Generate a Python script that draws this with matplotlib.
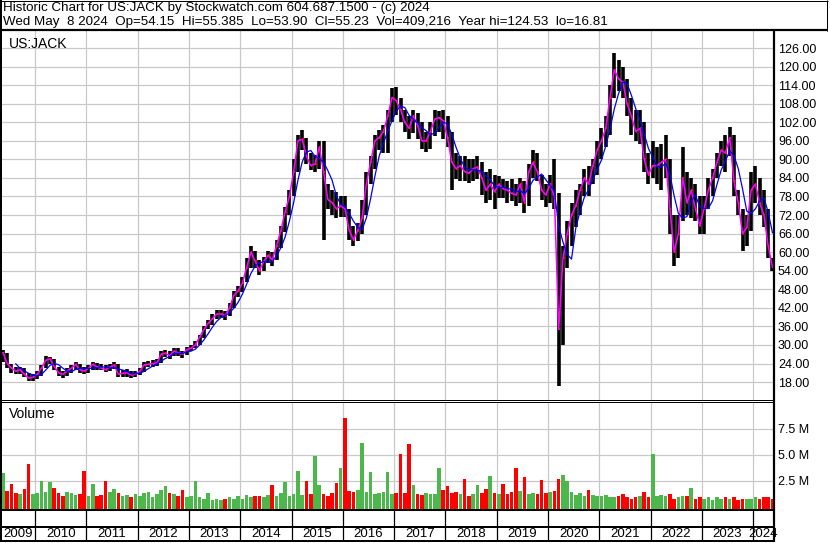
import numpy as np
import pandas as pd
import matplotlib
matplotlib.use("Agg")
import matplotlib.pyplot as plt
from matplotlib.lines import Line2D

plt.rcParams['font.family'] = ['Liberation Sans', 'DejaVu Sans']

# monthly bars, May 2009 .. May 2024
close = [
    27.5, 24.0, 22.5, 21.5, 22.0, 20.5, 19.3, 19.5,                                 # 2009
    20.5, 22.5, 25.0, 25.5, 23.0, 21.0, 20.5, 21.5, 22.5, 23.7, 22.0, 21.5,          # 2010
    22.5, 23.7, 23.0, 22.5, 22.0, 22.8, 23.5, 20.5, 20.8, 21.0, 20.3, 20.5,          # 2011
    21.5, 23.5, 23.7, 24.0, 24.2, 27.0, 27.3, 26.5, 28.0, 27.5, 27.0, 28.5,          # 2012
    29.0, 30.0, 32.5, 35.0, 37.0, 38.5, 40.0, 40.0, 39.5, 42.0, 46.0, 47.5,          # 2013
    50.0, 55.0, 60.0, 57.0, 54.0, 57.0, 59.0, 57.5, 62.0, 67.0, 73.0, 78.0,          # 2014
    86.0, 96.0, 96.5, 91.0, 88.0, 88.5, 94.0, 86.0, 77.0, 76.0, 74.0, 75.0,          # 2015
    74.0, 67.0, 64.0, 67.0, 71.0, 82.0, 89.0, 96.0, 97.0, 99.0, 104.0, 110.0,        # 2016
    109.0, 106.0, 102.0, 100.0, 104.0, 101.0, 96.0, 96.0, 99.0, 103.0, 103.5, 102.5, # 2017
    97.0, 89.0, 87.0, 88.0, 86.0, 85.5, 87.0, 87.5, 84.0, 80.0, 82.0, 79.5,          # 2018
    82.0, 80.5, 80.0, 79.0, 78.5, 82.0, 76.0, 86.0, 89.0, 86.0, 80.0, 78.5,          # 2019
    82.0, 78.0, 35.0, 58.0, 66.0, 72.0, 75.0, 80.0, 84.0, 82.0, 88.0, 93.0,          # 2020
    96.0, 100.0, 110.0, 119.0, 116.0, 115.0, 108.0, 104.0, 99.0, 100.0, 90.0, 85.0,  # 2021
    88.0, 88.0, 89.0, 90.0, 74.0, 60.0, 66.0, 84.0, 76.0, 80.0, 74.0, 68.5,          # 2022
    74.0, 80.0, 84.0, 89.0, 93.0, 92.0, 97.0, 83.0, 76.0, 66.0, 68.0, 80.0,          # 2023
    82.0, 76.0, 72.0, 62.0, 55.2,                                                    # 2024
]
high = [
    28.5, 27.5, 24.0, 23.0, 23.0, 22.5, 21.0, 20.5,
    21.5, 23.5, 26.5, 26.2, 25.5, 23.0, 21.5, 22.5, 23.5, 24.5, 24.0, 23.0,
    23.5, 24.5, 24.2, 23.8, 23.5, 23.8, 24.5, 23.8, 22.0, 22.2, 21.5, 21.5,
    22.5, 24.5, 24.8, 25.0, 25.5, 28.0, 28.3, 28.0, 29.0, 29.0, 28.0, 29.3,
    30.0, 31.2, 33.2, 36.0, 38.0, 40.0, 41.2, 41.3, 41.0, 43.5, 47.5, 49.0,
    52.0, 58.0, 62.0, 60.5, 57.5, 58.5, 60.5, 60.0, 64.0, 68.5, 74.5, 80.0,
    90.0, 98.0, 99.5, 97.0, 92.0, 91.5, 96.0, 96.0, 82.0, 80.0, 79.5, 78.0,
    78.0, 74.0, 68.5, 69.5, 77.0, 86.0, 91.0, 98.0, 99.5, 101.0, 106.0, 113.0,
    113.5, 110.0, 106.0, 104.0, 106.0, 105.0, 102.0, 99.0, 102.0, 106.0, 105.5, 106.0,
    104.0, 99.0, 92.0, 91.0, 91.0, 90.0, 90.0, 91.0, 89.0, 86.0, 87.0, 85.0,
    84.5, 83.5, 83.0, 83.5, 82.0, 84.0, 83.0, 88.5, 93.0, 92.0, 85.0, 82.0,
    85.0, 90.0, 79.0, 62.0, 70.0, 76.0, 80.0, 82.0, 87.0, 88.0, 90.0, 96.0,
    100.0, 104.0, 114.0, 124.5, 122.0, 120.0, 116.0, 110.0, 106.0, 106.0, 102.0, 92.0,
    96.0, 94.0, 95.0, 98.0, 90.0, 72.0, 72.0, 94.0, 86.0, 84.0, 82.0, 78.0,
    78.0, 84.0, 87.0, 92.0, 96.0, 98.0, 100.5, 98.0, 80.0, 74.0, 72.0, 86.0,
    88.0, 84.0, 80.0, 74.0, 58.0,
]
low = [
    24.5, 22.5, 21.0, 20.5, 20.5, 19.5, 18.3, 18.5,
    19.0, 20.0, 22.5, 24.0, 22.0, 20.0, 19.3, 20.0, 21.0, 22.0, 21.0, 20.5,
    21.0, 22.0, 22.0, 21.8, 21.2, 21.5, 22.3, 19.5, 19.5, 19.6, 19.3, 19.5,
    20.3, 21.2, 22.8, 23.0, 23.2, 24.2, 26.0, 25.5, 26.3, 26.5, 25.7, 26.8,
    28.0, 29.0, 30.0, 32.3, 35.0, 36.5, 38.5, 38.8, 38.2, 39.5, 41.8, 45.5,
    47.0, 50.5, 55.0, 55.0, 52.5, 54.0, 56.5, 55.5, 57.5, 61.5, 66.5, 72.0,
    78.0, 86.0, 93.0, 88.5, 86.5, 86.0, 87.0, 64.0, 74.0, 72.0, 71.0, 71.5,
    71.5, 64.0, 62.0, 63.5, 66.0, 72.0, 82.0, 87.0, 93.0, 92.0, 92.0, 102.0,
    104.5, 102.0, 99.0, 96.5, 98.5, 96.5, 93.5, 92.5, 93.5, 97.5, 99.0, 96.5,
    94.0, 80.0, 83.5, 83.0, 83.0, 82.5, 83.0, 83.5, 78.5, 76.0, 77.0, 74.0,
    77.5, 77.5, 76.0, 76.5, 75.0, 76.0, 72.5, 75.0, 84.0, 83.0, 77.0, 74.5,
    76.0, 74.0, 16.8, 30.0, 55.0, 62.0, 68.0, 72.0, 78.0, 78.0, 82.0, 85.0,
    90.0, 94.0, 98.0, 110.0, 112.0, 110.0, 104.0, 98.0, 96.0, 95.0, 86.0, 82.0,
    84.0, 82.0, 80.0, 84.0, 66.0, 55.4, 58.0, 70.0, 72.0, 71.0, 70.0, 66.0,
    66.0, 74.0, 78.0, 84.0, 88.0, 86.0, 91.0, 78.0, 72.0, 60.5, 62.0, 67.0,
    76.0, 72.0, 68.0, 58.0, 53.9,
]
# volume in millions of shares (tallest day of each month)
volume = [
    3.2, 1.5, 2.2, 1.3, 1.2, 1.7, 4.1, 1.2,
    1.3, 2.5, 1.4, 2.4, 1.8, 1.3, 1.0, 1.4, 1.3, 1.1, 1.2, 3.4,
    1.0, 2.2, 1.0, 1.1, 2.5, 1.4, 1.7, 1.3, 1.0, 1.1, 0.9, 1.2,
    1.0, 1.3, 1.4, 0.9, 1.2, 1.6, 2.0, 1.3, 1.2, 1.0, 1.6, 0.9,
    1.0, 2.5, 0.9, 0.8, 1.3, 0.7, 0.8, 0.7, 0.8, 0.9, 0.8, 1.0,
    0.8, 1.1, 0.9, 1.0, 1.0, 0.9, 1.1, 2.1, 1.0, 1.3, 2.4, 1.0,
    1.2, 3.4, 1.1, 2.5, 1.2, 4.9, 2.1, 1.2, 1.0, 1.3, 2.3, 3.7,
    8.5, 1.5, 1.4, 1.6, 6.1, 1.4, 3.3, 1.2, 1.3, 1.4, 3.3, 1.2,
    1.3, 5.1, 1.3, 6.0, 2.1, 1.2, 1.1, 1.3, 1.2, 1.2, 3.7, 1.6,
    2.0, 1.3, 1.4, 1.2, 2.7, 1.0, 1.2, 2.05, 1.3, 1.7, 3.0, 1.3,
    1.2, 2.2, 1.2, 1.4, 3.7, 1.5, 2.85, 1.2, 1.3, 1.2, 2.6, 1.3,
    1.4, 1.5, 2.7, 3.1, 2.5, 1.4, 1.1, 1.3, 1.0, 1.6, 1.1, 1.0,
    1.0, 1.1, 0.9, 0.9, 1.0, 1.2, 0.9, 0.8, 0.9, 1.0, 1.4, 0.9,
    5.1, 1.0, 1.1, 1.0, 1.2, 0.8, 0.9, 1.0, 1.0, 1.8, 0.8, 0.9,
    0.8, 0.9, 0.7, 0.9, 0.8, 0.9, 0.8, 0.9, 0.7, 0.8, 0.8, 0.8,
    0.9, 0.8, 0.9, 0.9, 0.8,
]
years = list(range(2009, 2025))
price_ticks = list(range(18, 127, 6))
vol_ticks = [2.5, 5.0, 7.5]

header1 = "Historic Chart for US:JACK by Stockwatch.com 604.687.1500 - (c) 2024"
header2 = ("Wed May  8 2024  Op=54.15  Hi=55.385  Lo=53.90  Cl=55.23  "
           "Vol=409,216  Year hi=124.53  lo=16.81")

W, H = 830, 543


def fx(x):
    return x / W


def fy(y):
    return 1 - y / H


def hline(fig, x0, x1, y, lw=1.0):
    fig.add_artist(Line2D([fx(x0), fx(x1)], [fy(y), fy(y)], transform=fig.transFigure,
                          color='black', lw=lw * 0.72, solid_capstyle='butt'))


def vline(fig, x, y0, y1, lw=1.0):
    fig.add_artist(Line2D([fx(x), fx(x)], [fy(y0), fy(y1)], transform=fig.transFigure,
                          color='black', lw=lw * 0.72, solid_capstyle='butt'))


df = pd.DataFrame({'close': close, 'high': high, 'low': low, 'volume': volume})
df['t'] = 2009 + (4 + np.arange(len(df)) + 0.5) / 12
ma_short = df['close'].rolling(1).mean()
ma_long = df['close'].rolling(4).mean()
up = df['close'].diff().fillna(1) >= 0

x_left, x_right = 2009.337, 2024.386
grid_col = '#c8c8c8'

fig = plt.figure(figsize=(W / 100, H / 100), dpi=100)

# price panel
ax = fig.add_axes([fx(1), fy(400), fx(773) - fx(1), fy(31) - fy(400)])
ax.set_xlim(x_left, x_right)
ax.set_ylim(12.2, 131.5)
ax.set_yticks(price_ticks)
ax.set_yticklabels([f"{v:.2f}" for v in price_ticks])
ax.set_xticks(years[1:])
ax.grid(True, color=grid_col, lw=1.2 * 0.72)
ax.set_axisbelow(True)
ax.tick_params(axis='y', right=True, labelright=True, left=False, labelleft=False,
               length=0, pad=3.6, labelsize=9)
ax.tick_params(axis='x', bottom=False, labelbottom=False)
for s in ax.spines.values():
    s.set_visible(False)

ax.vlines(df['t'], df['low'], df['high'], color='black', lw=2.6)
ax.hlines(df['close'], df['t'], df['t'] + 0.03, color='red', lw=1.5)
ax.plot(df['t'], ma_short, color='#ff00ff', lw=1.1)
ax.plot(df['t'], ma_long, color='#0000ff', lw=0.9)
ax.text(0.01, 0.965, "US:JACK", transform=ax.transAxes, fontsize=10, va='center')

# volume panel
axv = fig.add_axes([fx(1), fy(509.5), fx(773) - fx(1), fy(403) - fy(509.5)])
axv.set_xlim(x_left, x_right)
axv.set_ylim(-0.25, 9.95)
axv.set_yticks(vol_ticks)
axv.set_yticklabels([f"{v:.1f} M" for v in vol_ticks])
axv.set_xticks(years[1:])
axv.grid(True, color=grid_col, lw=1.2 * 0.72)
axv.set_axisbelow(True)
axv.tick_params(axis='y', right=True, labelright=True, left=False, labelleft=False,
                length=0, pad=3.6, labelsize=9)
axv.tick_params(axis='x', bottom=False, labelbottom=False)
for s in axv.spines.values():
    s.set_visible(False)
axv.bar(df['t'], df['volume'] + 0.25, bottom=-0.25, width=0.07,
        color=np.where(up, '#4cb84c', '#ff0000'), linewidth=0)
axv.text(0.01, 0.9, "Volume", transform=axv.transAxes, fontsize=10, va='center')

# date strip
axd = fig.add_axes([fx(1), fy(541), fx(773) - fx(1), fy(510) - fy(541)])
axd.set_xlim(x_left, x_right)
axd.set_ylim(0, 2)
axd.axis('off')
axd.vlines(years[1:], 0, 2, color='black', lw=0.9)
for yr in years:
    a = max(yr, x_left)
    b = min(yr + 1, x_right)
    axd.text((a + b) / 2, 0.47, str(yr), ha='center', va='center', fontsize=9.5)

# frame lines
hline(fig, 0, 828, 0.5, 1)
vline(fig, 0.8, 0, 541, 2)
vline(fig, 827, 0, 31, 1)
hline(fig, 0, 828, 30, 2.2)
hline(fig, 0, 773, 399.5, 1)
hline(fig, 0, 773, 402, 1)
hline(fig, 0, 774, 509.8, 2)
hline(fig, 0, 774, 526.6, 2)
hline(fig, 0, 774, 540.6, 2)
vline(fig, 773.5, 30, 541.5, 2.2)

fig.text(fx(3), fy(8), header1, fontsize=9.6, va='center')
fig.text(fx(3), fy(22), header2, fontsize=9.6, va='center')

fig.savefig("out.png", dpi=100)
